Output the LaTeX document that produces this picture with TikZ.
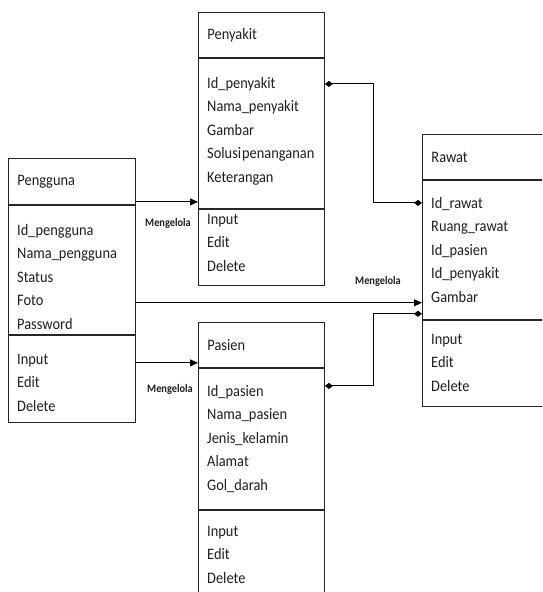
\documentclass[tikz,border=0pt]{standalone}
\usepackage{fontspec}
\setmainfont{Carlito}[FakeStretch=0.9]
\usepackage{tikz}
\usetikzlibrary{arrows.meta, calc, positioning}

\tikzset{
  cell/.style={draw=black!85, line width=0.9pt, anchor=north west, align=left,
    inner xsep=9pt, inner ysep=0pt, text=black!88,
    font=\fontsize{16}{23.5}\selectfont},
  isi/.style={anchor=north west, align=left, inner xsep=9pt, inner ysep=0pt,
    text=black!88, font=\fontsize{16}{23.5}\selectfont},
  w127/.style={minimum width=127pt, text width=109pt},
  w126/.style={minimum width=126pt, text width=108pt},
  w130/.style={minimum width=130pt, text width=112pt},
  mglbl/.style={font=\fontsize{11.5}{13}\selectfont\bfseries, text=black!88, inner sep=0pt},
  mgl/.style={draw=black, line width=0.9pt, -{Triangle[length=8pt,width=7pt]}},
  relasi/.style={draw=black, line width=0.9pt, {Diamond[length=8pt,width=6pt]}-{Diamond[length=8pt,width=6pt]}}
}

\begin{document}
\begin{tikzpicture}[x=1pt,y=1pt,yscale=-1,xscale=1]
		\useasboundingbox (0,0) rectangle (542,592);
		\clip (0,0) rectangle (542,592);

		%Shape: Rectangle (Pengguna)
		\node[cell, w127, minimum height=46pt] (pengguna-t) at (8,158) {Pengguna};
		\node[cell, w127, minimum height=129pt, below=0pt of pengguna-t] (pengguna-a) {};
		\node[cell, w127, minimum height=87pt, below=0pt of pengguna-a] (pengguna-m) {};
		% Text Node
		\node[isi, w127] (pengguna-ai) at ($(pengguna-a.north west)+(0,19)$) {Id\_pengguna\\Nama\_pengguna\\Status\\Foto\\Password};
		% Text Node
		\node[isi, w127] (pengguna-mi) at ($(pengguna-m.north west)+(0,19)$) {Input\\Edit\\Delete};

		%Shape: Rectangle (Penyakit)
		\node[cell, w126, minimum height=45pt] (penyakit-t) at (198,12) {Penyakit};
		\node[cell, w126, minimum height=150pt, below=0pt of penyakit-t] (penyakit-a) {};
		\node[cell, w126, minimum height=76pt, below=0pt of penyakit-a] (penyakit-m) {};
		% Text Node
		\node[isi, w126] (penyakit-ai) at ($(penyakit-a.north west)+(0,19)$) {Id\_penyakit\\Nama\_penyakit\\Gambar\\\mbox{Solusi\hspace{1pt}penanganan}\\Keterangan};
		% Text Node
		\node[isi, w126] (penyakit-mi) at ($(penyakit-m.north west)+(0,5)$) {Input\\Edit\\Delete};

		%Shape: Rectangle (Pasien)
		\node[cell, w126, minimum height=45pt] (pasien-t) at (198,322) {Pasien};
		\node[cell, w126, minimum height=141pt, below=0pt of pasien-t] (pasien-a) {};
		\node[cell, w126, minimum height=100pt, below=0pt of pasien-a] (pasien-m) {};
		% Text Node
		\node[isi, w126] (pasien-ai) at ($(pasien-a.north west)+(0,17)$) {Id\_pasien\\Nama\_pasien\\Jenis\_kelamin\\Alamat\\Gol\_darah};
		% Text Node
		\node[isi, w126] (pasien-mi) at ($(pasien-m.north west)+(0,16)$) {Input\\Edit\\Delete};

		%Shape: Rectangle (Rawat)
		\node[cell, w130, minimum height=45pt] (rawat-t) at (422,134) {Rawat};
		\node[cell, w130, minimum height=139pt, below=0pt of rawat-t] (rawat-a) {};
		\node[cell, w130, minimum height=86pt, below=0pt of rawat-a] (rawat-m) {};
		% Text Node
		\node[isi, w130] (rawat-ai) at ($(rawat-a.north west)+(0,17)$) {Id\_rawat\\Ruang\_rawat\\Id\_pasien\\Id\_penyakit\\Gambar};
		% Text Node
		\node[isi, w130] (rawat-mi) at ($(rawat-m.north west)+(0,14)$) {Input\\Edit\\Delete};

		%Straight Lines
		\coordinate (m1) at ($(pengguna-t.south east)+(0,-3)$);
		\draw[mgl] (m1) -- (m1 -| penyakit-a.west);
		%Straight Lines
		\coordinate (m2) at ($(pengguna-a.south east)+(0,-32)$);
		\draw[mgl] (m2) -- (m2 -| rawat-a.west);
		%Straight Lines
		\coordinate (m3) at ($(pasien-t.south west)+(0,-5)$);
		\draw[mgl] (m3 -| pengguna-m.east) -- (m3);

		%Straight Lines
		\coordinate (d1) at ($(penyakit-a.north east)+(0,26)$);
		\coordinate (d1e) at ($(rawat-a.north west)+(0,23)$);
		\draw[relasi] (d1) -| ($(d1)!0.5!(d1e)$) |- (d1e);
		%Straight Lines
		\coordinate (d2) at ($(pasien-a.north east)+(0,18)$);
		\coordinate (d2e) at ($(rawat-m.north west)+(0,-6)$);
		\draw[relasi] (d2) -| ($(d2)!0.5!(d2e)$) |- (d2e);

		% Text Node
		\node[mglbl] (lbl-1) at (168,223) {Mengelola};
		% Text Node
		\node[mglbl] (lbl-2) at (378,281) {Mengelola};
		% Text Node
		\node[mglbl] (lbl-3) at (170,389) {Mengelola};

	\end{tikzpicture}
\end{document}
